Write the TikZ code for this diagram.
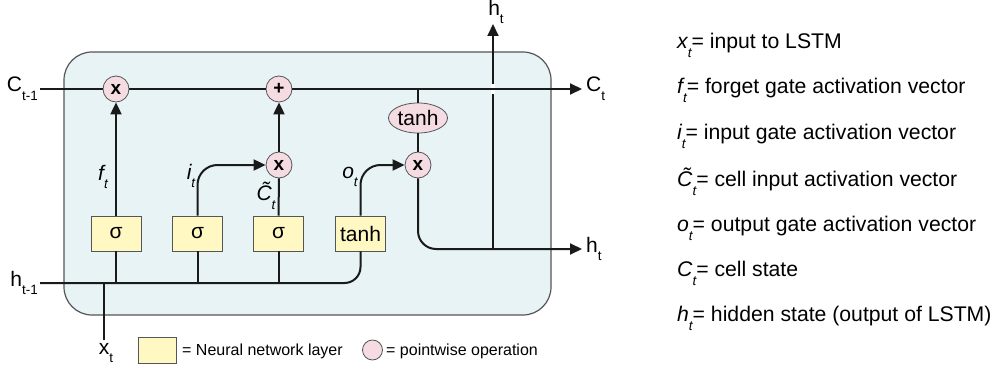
\documentclass[tikz,border=0pt]{standalone}
\usepackage{fontspec}
\setmainfont{Liberation Sans}
\usetikzlibrary{arrows.meta,shapes.geometric}
\definecolor{cellbg}{HTML}{E7F3F5}
\definecolor{layerbg}{HTML}{FFF8C2}
\definecolor{opbg}{HTML}{F5DCE3}
\definecolor{ink}{HTML}{1A1A1A}
\definecolor{edge}{HTML}{555555}
\newcommand\sbs[1]{\raisebox{-0.42em}{\fontsize{13.5}{13.5}\selectfont #1}}
\newcommand\isbs[1]{\raisebox{-0.42em}{\fontsize{13.5}{13.5}\selectfont\itshape #1}}
\tikzset{
  lbl/.style={inner sep=0pt, font=\fontsize{21}{21}\selectfont},
  layerbox/.style={draw=edge, line width=0.8pt, fill=layerbg, minimum width=50, minimum height=35, inner sep=0pt, font=\fontsize{21}{21}\selectfont},
  opcirc/.style={circle, draw=edge, line width=0.8pt, fill=opbg, minimum size=26, inner sep=0pt, font=\fontsize{19}{19}\selectfont\bfseries},
  opell/.style={ellipse, draw=edge, line width=0.8pt, fill=opbg, minimum width=59, minimum height=30, inner sep=0pt, font=\fontsize{21}{21}\selectfont},
  wire/.style={draw=ink, line width=2pt},
  arr/.style={wire, -{Triangle[length=12,width=11]}},
  rtext/.style={anchor=west, inner sep=0pt, font=\fontsize{21.2}{21.2}\selectfont},
  legtext/.style={anchor=west, inner sep=0pt, font=\fontsize{16}{16}\selectfont}
}
\begin{document}
\begin{tikzpicture}[x=1pt,y=-1pt]
\useasboundingbox (0,0) rectangle (997,369);
% cell
\draw[draw=edge, line width=1.2pt, fill=cellbg, rounded corners=28] (64,52) rectangle (551,315);
\node[draw=none, inner sep=0pt] (cell) at (307.5,183.5) {};
% coordinates
\coordinate (cin) at (40,89);
\coordinate (cout) at (582,89);
\coordinate (hin) at (40,283);
\coordinate (hout) at (582,249);
\coordinate (hup) at (493,24);
\coordinate (hsplit) at (493,249);
\coordinate (xin) at (104,340);
\coordinate (xjoin) at (104,283);
\coordinate (cjoin) at (418,89);
% nodes
\node[opcirc] (mul1) at (116,89) {x};
\node[opcirc, font=\fontsize{19}{19}\selectfont\bfseries] (add) at (279,89) {+};
\node[opcirc] (mul2) at (279,165) {x};
\node[opcirc] (mul3) at (418,165) {x};
\node[opell] (tanhE) at (418,118) {tanh};
\node[layerbox] (s1) at (116,233.5) {σ};
\node[layerbox] (s2) at (197.5,233.5) {σ};
\node[layerbox] (s3) at (278.5,233.5) {σ};
\node[layerbox] (tb) at (360.5,233.5) {tanh};
% hidden output lines (drawn before C line)
\draw[arr] (hsplit) -- (hup);
\draw[draw=white, line width=4pt] (493,84) -- (493,94);
% C line
\draw[wire] (cin) -- (mul1.west);
\draw[wire] (mul1.east) -- (add.west);
\draw[arr] (add.east) -- (cout);
% h input line
\draw[wire, rounded corners=16] (hin) -| (tb.south);
\draw[wire] (xin) -- (xjoin);
\draw[wire] (s1.south) -- (s1.south |- hin);
\draw[wire] (s2.south) -- (s2.south |- hin);
\draw[wire] (s3.south) -- (s3.south |- hin);
% gates
\draw[arr] (s1.north) -- (mul1.south);
\draw[arr, rounded corners=20] (s2.north) |- (mul2.west);
\draw[wire] (s3.north) -- (mul2.south);
\draw[arr] (mul2.north) -- (add.south);
\draw[arr, rounded corners=20] (tb.north) |- (mul3.west);
\draw[wire] (cjoin) -- (tanhE.north);
\draw[wire] (tanhE.south) -- (mul3.north);
\draw[arr, rounded corners=18] (mul3.south) |- (hout);
% labels
\node[lbl, anchor=east] (lcin) at (38,89) {C\sbs{t-1}};
\node[lbl, anchor=east] (lhin) at (38,283) {h\sbs{t-1}};
\node[lbl] (lxin) at (106,353) {x\sbs{t}};
\node[lbl, anchor=west] (lcout) at (586,89) {C\sbs{t}};
\node[lbl, anchor=west] (lhout) at (586,249) {h\sbs{t}};
\node[lbl] (lhup) at (496,12) {h\sbs{t}};
\node[lbl] (lf) at (103,177) {\itshape f\isbs{t}};
\node[lbl] (li) at (191,176) {\itshape i\isbs{t}};
\node[lbl] (lc) at (266,196) {\itshape \~{C}\isbs{t}};
\node[lbl] (lo) at (350,177) {\itshape o\isbs{t}};
% legend
\node[draw=edge, line width=0.8pt, fill=layerbg, minimum width=38, minimum height=26, inner sep=0pt] (legbox) at (157,350) {};
\node[legtext] (legt1) at (182,351) {= Neural network layer};
\node[circle, draw=edge, line width=0.8pt, fill=opbg, minimum size=20, inner sep=0pt] (legcirc) at (372.5,350) {};
\node[legtext] (legt2) at (386,351) {= pointwise operation};
% right list
\node[rtext] (r1) at (677,45) {\itshape x\isbs{t}\upshape= input to LSTM};
\node[rtext] (r2) at (677,90) {\itshape f\isbs{t}\upshape= forget gate activation vector};
\node[rtext] (r3) at (677,136) {\itshape i\isbs{t}\upshape= input gate activation vector};
\node[rtext] (r4) at (677,182) {\itshape \~{C}\isbs{t}\upshape= cell input activation vector};
\node[rtext] (r5) at (677,228) {\itshape o\isbs{t}\upshape= output gate activation vector};
\node[rtext] (r6) at (677,273) {\itshape C\isbs{t}\upshape= cell state};
\node[rtext] (r7) at (677,318) {\itshape h\isbs{t}\upshape= hidden state (output of LSTM)};
\end{tikzpicture}
\end{document}
